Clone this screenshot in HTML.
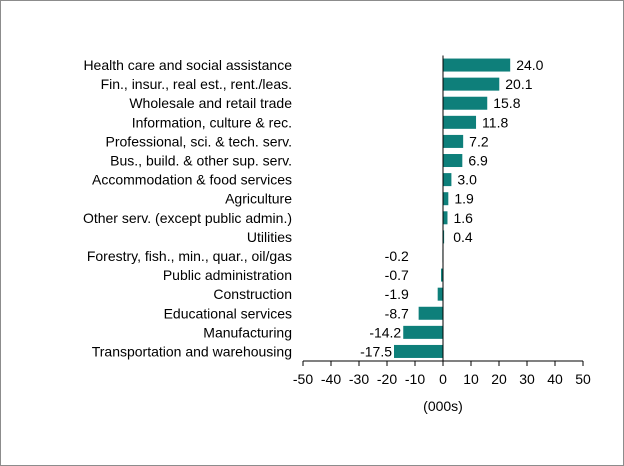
<!DOCTYPE html>
<html><head><meta charset="utf-8"><style>
html,body{margin:0;padding:0;background:#fff;}
svg{display:block;font-family:"Liberation Sans",Arial,sans-serif;}
</style></head><body>
<svg id="chart" width="624" height="466" viewBox="0 0 624 466">
<rect x="0.5" y="0.5" width="623" height="465" fill="#fff" stroke="#8c8c8c"/>
<g id="plot"></g>
</svg>
<script>
const categories=["Health care and social assistance","Fin., insur., real est., rent./leas.","Wholesale and retail trade","Information, culture & rec.","Professional, sci. & tech. serv.","Bus., build. & other sup. serv.","Accommodation & food services","Agriculture","Other serv. (except public admin.)","Utilities","Forestry, fish., min., quar., oil/gas","Public administration","Construction","Educational services","Manufacturing","Transportation and warehousing"];
const values=[24.0,20.1,15.8,11.8,7.2,6.9,3.0,1.9,1.6,0.4,-0.2,-0.7,-1.9,-8.7,-14.2,-17.5];
const ticks=[-50,-40,-30,-20,-10,0,10,20,30,40,50];
const axisTitle="(000s)";
const NS="http://www.w3.org/2000/svg";
const g=document.getElementById('plot');
const x0=303,x1=583,plotTop=55.5,plotBottom=361;
const xs=v=>x0+(v-(-50))/100*(x1-x0);
const band=(plotBottom-plotTop)/categories.length;
const yc=i=>plotTop+band*(i+0.5);
function mk(t,a){const e=document.createElementNS(NS,t);for(const k in a)e.setAttribute(k,a[k]);g.appendChild(e);return e;}
categories.forEach((c,i)=>{
 const v=values[i];
 const b=mk('rect',{x:Math.min(xs(0),xs(v)),y:yc(i)-6.5,width:Math.abs(xs(v)-xs(0)),height:13,fill:'#0e7f7a'});
 
 
 const l=mk('text',{x:292,y:yc(i)+5,'text-anchor':'end','font-size':14,fill:'#000'});
 l.textContent=c;
 
 
 let vt;
 if(v>=0){vt=mk('text',{x:Math.max(xs(v),xs(1.5))+6,y:yc(i)+5,'font-size':14});}
 else{vt=mk('text',{x:Math.min(xs(v),xs(-11.5))-2,y:yc(i)+5,'text-anchor':'end','font-size':14});}
 vt.textContent=v.toFixed(1);
 
 
});
const ya=mk('line',{x1:xs(0),x2:xs(0),y1:plotTop,y2:plotBottom,stroke:'#000'});


const xa=mk('line',{x1:x0,x2:x1,y1:plotBottom,y2:plotBottom,stroke:'#000'});


ticks.forEach(t=>{
 const tl=mk('line',{x1:xs(t),x2:xs(t),y1:plotBottom,y2:plotBottom+5,stroke:'#000'});
 
 
 const tt=mk('text',{x:xs(t),y:plotBottom+23,'text-anchor':'middle','font-size':14});
 tt.textContent=t;
 
 
});
const at=mk('text',{x:xs(0),y:plotBottom+50,'text-anchor':'middle','font-size':14});
at.textContent=axisTitle;


</script>
</body></html>
